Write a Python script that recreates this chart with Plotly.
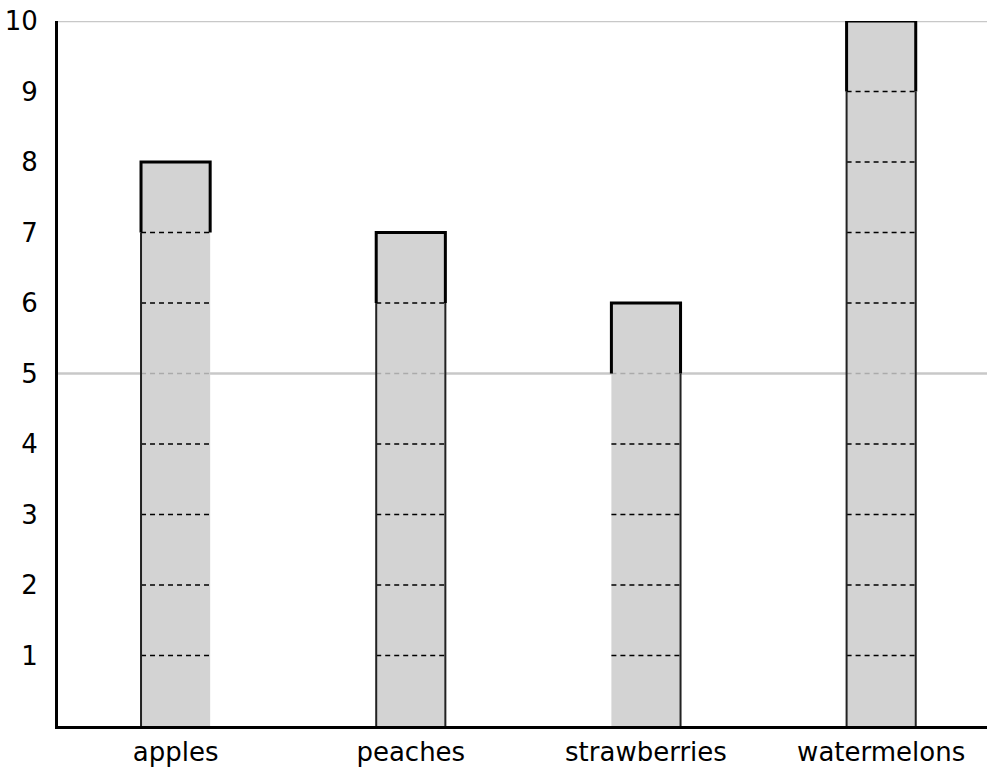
import plotly.graph_objects as go

categories = ["apples", "peaches", "strawberries", "watermelons"]
values = [8, 7, 6, 10]
# which sides of the lower (un-outlined) part carry a thin rule: (left, right)
side_rules = [(True, False), (True, True), (False, True), (True, True)]
y_ticks = [1, 2, 3, 4, 5, 6, 7, 8, 9, 10]
grid_levels = [5, 10]

FONT = "DejaVu Sans"
BAR_W = 0.294
FILL = "#d3d3d3"
GRID = "#c8c8c8"

xs = list(range(len(categories)))

fig = go.Figure()
fig.add_trace(go.Bar(x=xs, y=values, width=BAR_W, marker=dict(color=FILL, line=dict(width=0)),
                     hoverinfo="skip", showlegend=False))

for i, v in zip(xs, values):
    l, r = i - BAR_W / 2, i + BAR_W / 2
    # dashed separators between unit segments
    for k in range(1, v):
        col = "#aaaaaa" if k in grid_levels else "black"
        fig.add_trace(go.Scatter(x=[l, r], y=[k, k], mode="lines",
                                 line=dict(color=col, width=1.5, dash="5px,4px"),
                                 hoverinfo="skip", showlegend=False, cliponaxis=False))
    # thin side rules on lower part
    left_on, right_on = side_rules[i]
    if left_on:
        fig.add_trace(go.Scatter(x=[l, l], y=[0, v - 1], mode="lines",
                                 line=dict(color="#222222", width=2),
                                 hoverinfo="skip", showlegend=False, cliponaxis=False))
    if right_on:
        fig.add_trace(go.Scatter(x=[r, r], y=[0, v - 1], mode="lines",
                                 line=dict(color="#222222", width=2),
                                 hoverinfo="skip", showlegend=False, cliponaxis=False))
    # bold outline of the top segment
    fig.add_trace(go.Scatter(x=[l, l, r, r], y=[v - 1, v, v, v - 1], mode="lines",
                             line=dict(color="black", width=3),
                             hoverinfo="skip", showlegend=False, cliponaxis=False))

shapes = [dict(type="line", xref="paper", yref="y", x0=0, x1=1, y0=g, y1=g,
               line=dict(color=GRID, width=2.5), layer="below") for g in grid_levels]

fig.update_layout(
    width=987, height=774,
    margin=dict(l=58, r=0, t=21, b=48),
    paper_bgcolor="white", plot_bgcolor="white",
    font=dict(family=FONT, size=26, color="black"),
    shapes=shapes,
    xaxis=dict(range=[-0.5, 3.45], tickmode="array", tickvals=xs, ticktext=categories,
               showgrid=False, zeroline=False, showline=True, linecolor="black", linewidth=3,
               ticks="", ticklabelstandoff=1, automargin=False),
    yaxis=dict(range=[0, 10], tickmode="array", tickvals=y_ticks,
               ticktext=[str(t) for t in y_ticks], showgrid=False, zeroline=False,
               showline=True, linecolor="black", linewidth=3, ticks="",
               ticklabelstandoff=12, automargin=False, ticklabeloverflow="allow"),
)

fig.write_html("out.html", config={"displayModeBar": False},
               post_script="document.body.style.margin='0';document.body.style.overflow='hidden';")
